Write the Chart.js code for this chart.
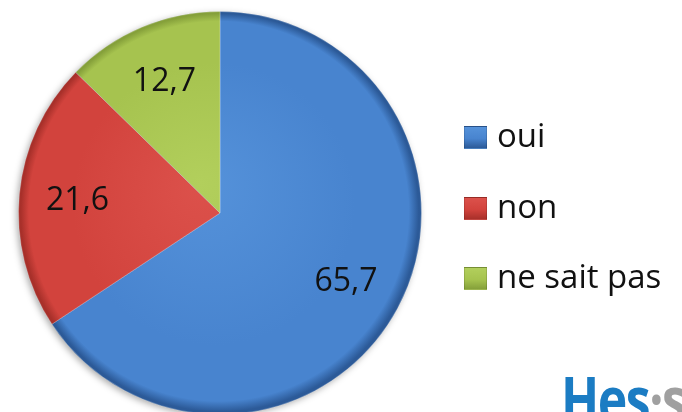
<!DOCTYPE html>
<html>
<head>
<meta charset="utf-8">
<script src="https://cdn.jsdelivr.net/npm/chart.js@4.4.0/dist/chart.umd.min.js"></script>
<style>
  html, body { margin: 0; padding: 0; background: #fff; overflow: hidden; }
  body { width: 682px; height: 412px; position: relative; }
  #wrap { position: absolute; left: 0; top: 0; width: 682px; height: 420px; }
  #legend { position: absolute; left: 0; top: 0; font-family: "Open Sans", "Noto Sans", sans-serif; font-size: 33px; color: #111; }
  .item { position: absolute; left: 464px; white-space: nowrap; line-height: normal; }
  .sw { position: absolute; left: 0; width: 23px; height: 23px; box-sizing: border-box; border: 1px solid rgba(0,0,0,0.12); }
  .tx { position: absolute; left: 33px; top: 0; }
  #logo { position: absolute; left: 561px; top: 356px; font-family: "Open Sans", "DejaVu Sans", sans-serif; font-weight: 700; font-size: 50px; line-height: normal; color: #1b7cc3; letter-spacing: -1.5px; white-space: nowrap; transform: scaleY(1.25); transform-origin: 0 0; }
  #logo .g { color: #a0a0a0; }
</style>
</head>
<body>
<div id="wrap"><canvas id="c"></canvas></div>
<div id="legend"></div>
<div id="logo">Hes<span class="g">·s</span></div>
<script>
const categories = ["oui", "non", "ne sait pas"];
const values = [65.7, 21.6, 12.7];
const valueLabels = ["65,7", "21,6", "12,7"];
const baseColors = ["#4884cf", "#d2433d", "#a6c34f"];
const edgeColors = ["#2c5a98", "#a8302a", "#85a03a"];
const lightColors = ["#5592da", "#dc514b", "#b2cf5c"];

function radialFill(ctx) {
  const chart = ctx.chart;
  const a = chart.chartArea;
  const k = ctx.dataIndex;
  if (!a || a.right <= a.left) return baseColors[k];
  const cx = (a.left + a.right) / 2, cy = (a.top + a.bottom) / 2;
  const r = Math.min(a.right - a.left, a.bottom - a.top) / 2;
  const g = chart.ctx.createRadialGradient(cx - r * 0.1, cy - r * 0.15, 0, cx, cy, r);
  g.addColorStop(0, lightColors[k]);
  g.addColorStop(0.7, baseColors[k]);
  g.addColorStop(0.94, baseColors[k]);
  g.addColorStop(0.985, edgeColors[k]);
  g.addColorStop(1, edgeColors[k]);
  return g;
}

const shadowPlugin = {
  id: 'pieShadow',
  beforeDatasetsDraw(chart) {
    const a = chart.chartArea;
    const cx = (a.left + a.right) / 2, cy = (a.top + a.bottom) / 2;
    const r = Math.min(a.right - a.left, a.bottom - a.top) / 2;
    const c = chart.ctx;
    c.save();
    c.shadowColor = 'rgba(0,0,0,0.35)';
    c.shadowBlur = 7;
    c.shadowOffsetX = -2;
    c.shadowOffsetY = 2;
    c.fillStyle = '#3a6fb5';
    c.beginPath();
    c.arc(cx, cy, r - 1, 0, Math.PI * 2);
    c.fill();
    c.restore();
  }
};

const labelPlugin = {
  id: 'valueLabels',
  afterDatasetsDraw(chart) {
    const ctx = chart.ctx;
    const meta = chart.getDatasetMeta(0);
    ctx.save();
    ctx.font = '32px "Open Sans", "Noto Sans", sans-serif';
    ctx.fillStyle = '#111';
    ctx.textAlign = 'center';
    ctx.textBaseline = 'middle';
    meta.data.forEach((arc, i) => {
      const p = arc.getProps(['x','y','startAngle','endAngle','outerRadius'], true);
      const mid = (p.startAngle + p.endAngle) / 2;
      const r = p.outerRadius * 0.71;
      ctx.fillText(valueLabels[i], p.x + Math.cos(mid) * r, p.y + Math.sin(mid) * r + 1);
    });
    ctx.restore();
  }
};

const chart = new Chart(document.getElementById('c'), {
  type: 'pie',
  data: {
    labels: categories,
    datasets: [{
      data: values,
      backgroundColor: radialFill,
      borderColor: 'rgba(255,255,255,0.25)',
      borderWidth: 1
    }]
  },
  options: {
    responsive: true,
    maintainAspectRatio: false,
    animation: false,
    layout: { padding: { left: 18, right: 260, top: 11, bottom: 5 } },
    plugins: { legend: { display: false }, tooltip: { enabled: false } }
  },
  plugins: [shadowPlugin, labelPlugin]
});

const legend = document.getElementById('legend');
const itemTops = [112, 182.5, 253];
chart.data.labels.forEach((lab, i) => {
  const d = document.createElement('div');
  d.className = 'item';
  d.style.top = itemTops[i] + 'px';
  const s = document.createElement('span');
  s.className = 'sw';
  s.style.top = '14px';
  s.style.background = 'linear-gradient(180deg,' + lightColors[i] + ',' + baseColors[i] + ' 55%,' + edgeColors[i] + ')';
  const t = document.createElement('span');
  t.className = 'tx';
  t.textContent = lab;
  d.appendChild(s); d.appendChild(t);
  legend.appendChild(d);
});
</script>
</body>
</html>
